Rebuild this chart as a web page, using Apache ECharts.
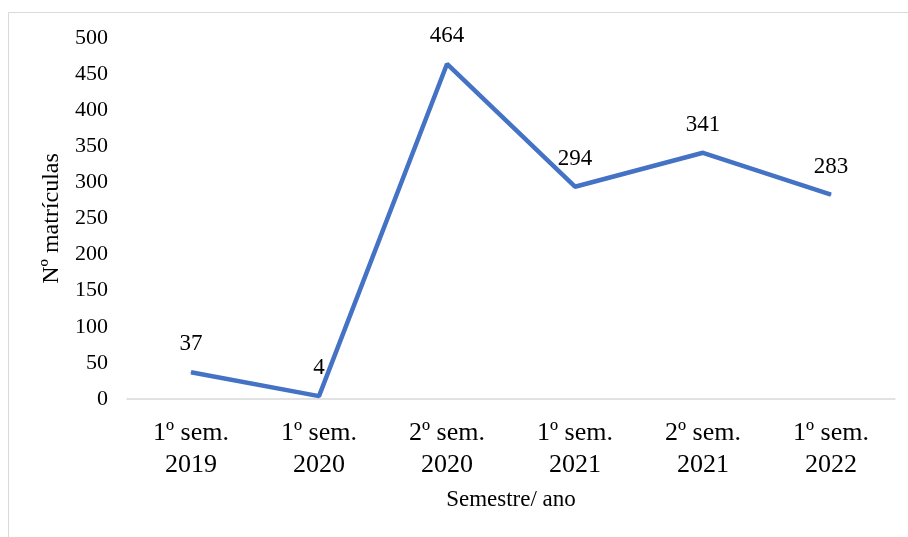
<!DOCTYPE html>
<html>
<head>
<meta charset="utf-8">
<script src="https://cdn.jsdelivr.net/npm/echarts@6/dist/echarts.min.js"></script>
<style>
  html, body { margin: 0; padding: 0; background: #fff; }
  #chart { width: 908px; height: 537px; }
</style>
</head>
<body>
<div id="chart"></div>
<script>
// Enrolments per semester
const categories = ['1º sem.\n2019', '1º sem.\n2020', '2º sem.\n2020', '1º sem.\n2021', '2º sem.\n2021', '1º sem.\n2022'];
const matriculas = [37, 4, 464, 294, 341, 283];
const yTicks = { min: 0, max: 500, interval: 50 };

const serif = '"Liberation Serif", "Times New Roman", serif';
const chart = echarts.init(document.getElementById('chart'));

chart.setOption({
  animation: false,
  backgroundColor: '#fff',
  graphic: [
    // open frame: left and top edges only
    { type: 'polyline', silent: true, shape: { points: [[8.5, 600], [8.5, 12.5], [920, 12.5]] },
      style: { stroke: '#d9d9d9', lineWidth: 1, fill: null } }
  ],
  grid: { left: 127, right: 13, top: 38, bottom: 138 },
  xAxis: {
    type: 'category',
    data: categories,
    boundaryGap: true,
    axisLine: { lineStyle: { color: '#d9d9d9', width: 1.5 } },
    axisTick: { show: false },
    axisLabel: { color: '#000', fontFamily: serif, fontSize: 26, lineHeight: 32, margin: 18 },
    name: 'Semestre/ ano',
    nameLocation: 'middle',
    nameGap: 89,
    nameTextStyle: { color: '#000', fontFamily: serif, fontSize: 23 }
  },
  yAxis: {
    type: 'value',
    min: yTicks.min,
    max: yTicks.max,
    interval: yTicks.interval,
    splitLine: { show: false },
    axisLine: { show: false },
    axisTick: { show: false },
    axisLabel: { color: '#000', fontFamily: serif, fontSize: 22, margin: 19 },
    name: 'Nº matrículas',
    nameLocation: 'middle',
    nameGap: 60,
    nameTextStyle: { color: '#000', fontFamily: serif, fontSize: 24 }
  },
  series: [{
    type: 'line',
    data: matriculas,
    symbol: 'circle',
    symbolSize: 1,
    itemStyle: { color: '#4472C4' },
    lineStyle: { color: '#4472C4', width: 4.5 },
    label: {
      show: true,
      position: 'top',
      distance: 16,
      color: '#000',
      fontFamily: serif,
      fontSize: 23
    }
  }]
});
</script>
</body>
</html>
